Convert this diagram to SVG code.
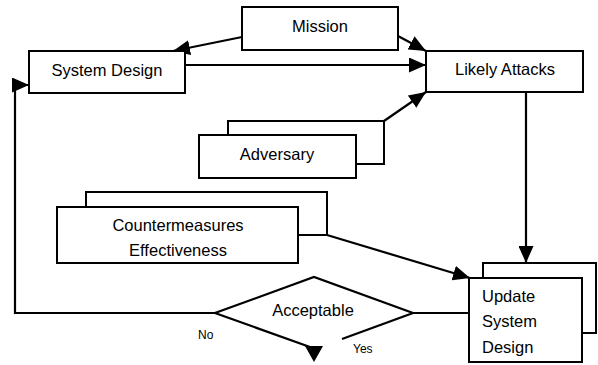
<svg xmlns="http://www.w3.org/2000/svg" width="598" height="365" viewBox="0 0 598 365">
<style>
.box{fill:#fff;stroke:#000;stroke-width:2}
.ln{fill:none;stroke:#000;stroke-width:2.2}
.t{font-family:"Liberation Sans",Arial,sans-serif;font-size:16.5px;fill:#000}
.s{font-family:"Liberation Sans",Arial,sans-serif;font-size:12px;fill:#000}
</style>
<defs>
<marker id="ah" markerUnits="userSpaceOnUse" markerWidth="17" markerHeight="15" refX="17" refY="7.5" orient="auto">
<path d="M0,0 L17,7.5 L0,15 z" fill="#000"/>
</marker>
</defs>
<g id="connectors">
<line class="ln" x1="242" y1="37" x2="173" y2="51" marker-end="url(#ah)"/>
<line class="ln" x1="398" y1="36" x2="426" y2="51" marker-end="url(#ah)"/>
<line class="ln" x1="185" y1="65" x2="426" y2="65" marker-end="url(#ah)"/>
<line class="ln" x1="384" y1="121" x2="426" y2="92" marker-end="url(#ah)"/>
<line class="ln" x1="526" y1="92" x2="526" y2="263" marker-end="url(#ah)"/>
<line class="ln" x1="327" y1="235" x2="470" y2="278" marker-end="url(#ah)"/>
<path class="ln" d="M215,313 H15 V85 H29" marker-end="url(#ah)"/>
<line class="ln" x1="413" y1="313" x2="469" y2="313"/>
<polygon points="305,346 323,346 314,362" fill="#000"/>
</g>
<g id="mission">
<rect class="box" x="242" y="7" width="156" height="43"/>
<text class="t" x="320" y="32" text-anchor="middle">Mission</text>
</g>
<g id="system-design">
<rect class="box" x="29" y="51" width="156" height="42"/>
<text class="t" x="107" y="76" text-anchor="middle">System Design</text>
</g>
<g id="likely-attacks">
<rect class="box" x="426" y="51" width="157" height="41"/>
<text class="t" x="505" y="75" text-anchor="middle">Likely Attacks</text>
</g>
<g id="adversary">
<rect class="box" x="228" y="121" width="156" height="43"/>
<rect class="box" x="199" y="135" width="157" height="43"/>
<text class="t" x="277" y="160" text-anchor="middle">Adversary</text>
</g>
<g id="countermeasures">
<rect class="box" x="86" y="192" width="241" height="43"/>
<rect class="box" x="57" y="207" width="241" height="56"/>
<text class="t" x="178" y="231" text-anchor="middle">Countermeasures</text>
<text class="t" x="178" y="256" text-anchor="middle">Effectiveness</text>
</g>
<g id="update-system-design">
<rect class="box" x="483" y="263" width="113" height="70"/>
<rect class="box" x="469" y="278" width="113" height="84"/>
<text class="t" x="482" y="302">Update</text>
<text class="t" x="482" y="327">System</text>
<text class="t" x="482" y="353">Design</text>
</g>
<g id="acceptable">
<polyline class="ln" points="342,339 413,313 314,277 215,313 310,347"/>
<text class="t" x="313" y="316" text-anchor="middle">Acceptable</text>
<text class="s" x="198" y="339">No</text>
<text class="s" x="353" y="353">Yes</text>
</g>
</svg>
